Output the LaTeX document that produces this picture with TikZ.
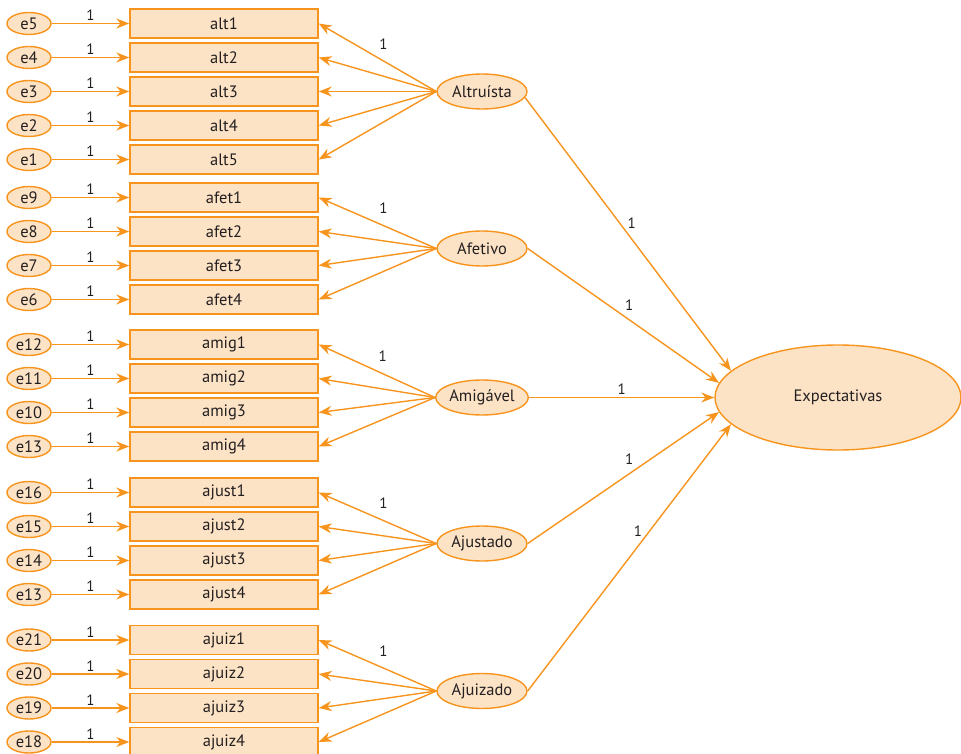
\documentclass[tikz,border=0pt]{standalone}
\usepackage{fontspec}
\setmainfont{PT Sans}
\usetikzlibrary{shapes.geometric,arrows.meta}
\definecolor{lineorange}{HTML}{F7941D}
\definecolor{fillpeach}{HTML}{FDE3C6}
\definecolor{textgray}{HTML}{231F20}
\newcommand{\indicator}[3]
{
  \node[obs](#1) at (224,#3) {#1};
  \node[err](e#1) at (29,#3) {#2};
  \draw[arrowline](e#1) -- node[weight, above=0pt]{1} (#1);
}
\begin{document}
\begin{tikzpicture}
    [
      x=1pt,
      y=-1pt,
      line width=1.4pt,
      obs/.style=
      {
        draw=lineorange,
        fill=fillpeach,
        text=textgray,
        minimum width=188pt,
        minimum height=29pt,
        inner sep=0pt,
        font=\fontsize{16.5}{18}\selectfont,
      },
      err/.style=
      {
        ellipse,
        draw=lineorange,
        fill=fillpeach,
        text=textgray,
        minimum width=44pt,
        minimum height=22pt,
        inner sep=0pt,
        font=\fontsize{16.5}{18}\selectfont,
      },
      latent/.style=
      {
        ellipse,
        draw=lineorange,
        fill=fillpeach,
        text=textgray,
        minimum width=90pt,
        minimum height=35pt,
        inner sep=0pt,
        font=\fontsize{16.5}{18}\selectfont,
      },
      arrowline/.style=
      {
        draw=lineorange,
        -{Stealth[length=13pt,width=10pt]},
      },
      weight/.style=
      {
        text=textgray,
        inner sep=2pt,
        font=\fontsize{15}{17}\selectfont,
      }
    ]
    \useasboundingbox (0,0) rectangle (961,754);
    \node[latent, minimum width=246pt, minimum height=105pt](Expectativas) at (838,397.5) {Expectativas};
    % Altruista
    \indicator{alt1}{e5}{23.5}
    \indicator{alt2}{e4}{57.5}
    \indicator{alt3}{e3}{91.5}
    \indicator{alt4}{e2}{125.5}
    \indicator{alt5}{e1}{159.5}
    \node[latent](Altruista) at (482,91.5) {Altruísta};
    \draw[arrowline](Altruista.west) -- node[weight, pos=0.45, above=9pt]{1} (alt1.east);
    \foreach \i in {2,...,5}
      \draw[arrowline](Altruista.west) -- (alt\i.east);
    % Afetivo
    \indicator{afet1}{e9}{197.5}
    \indicator{afet2}{e8}{231.5}
    \indicator{afet3}{e7}{265.5}
    \indicator{afet4}{e6}{299.5}
    \node[latent](Afetivo) at (482,248.5) {Afetivo};
    \draw[arrowline](Afetivo.west) -- node[weight, pos=0.45, above=9pt]{1} (afet1.east);
    \foreach \i in {2,...,4}
      \draw[arrowline](Afetivo.west) -- (afet\i.east);
    % Amigavel
    \indicator{amig1}{e12}{344.5}
    \indicator{amig2}{e11}{378.5}
    \indicator{amig3}{e10}{412.5}
    \indicator{amig4}{e13}{446.5}
    \node[latent](Amigavel) at (482,397.5) {Amigável};
    \draw[arrowline](Amigavel.west) -- node[weight, pos=0.45, above=9pt]{1} (amig1.east);
    \foreach \i in {2,...,4}
      \draw[arrowline](Amigavel.west) -- (amig\i.east);
    % Ajustado
    \indicator{ajust1}{e16}{492.5}
    \indicator{ajust2}{e15}{526.5}
    \indicator{ajust3}{e14}{560.5}
    \indicator{ajust4}{e13}{594.5}
    \node[latent](Ajustado) at (482,543.5) {Ajustado};
    \draw[arrowline](Ajustado.west) -- node[weight, pos=0.45, above=9pt]{1} (ajust1.east);
    \foreach \i in {2,...,4}
      \draw[arrowline](Ajustado.west) -- (ajust\i.east);
    % Ajuizado
    \indicator{ajuiz1}{e21}{640}
    \indicator{ajuiz2}{e20}{674}
    \indicator{ajuiz3}{e19}{708}
    \indicator{ajuiz4}{e18}{742}
    \node[latent](Ajuizado) at (482,691) {Ajuizado};
    \draw[arrowline](Ajuizado.west) -- node[weight, pos=0.45, above=9pt]{1} (ajuiz1.east);
    \foreach \i in {2,...,4}
      \draw[arrowline](Ajuizado.west) -- (ajuiz\i.east);
    % paths to Expectativas
    \draw[arrowline](Altruista.-8) -- node[weight, pos=0.46, right=5pt]{1} (Expectativas.166);
    \draw[arrowline](Afetivo.east) -- node[weight, pos=0.53, above=7pt]{1} (Expectativas.173);
    \draw[arrowline](Amigavel.east) -- node[weight, pos=0.5, above=0pt]{1} (Expectativas.west);
    \draw[arrowline](Ajustado.east) -- node[weight, pos=0.53, above=7pt]{1} (Expectativas.187);
    \draw[arrowline](Ajuizado.east) -- node[weight, pos=0.6, left=5pt]{1} (Expectativas.194);
  \end{tikzpicture}
\end{document}
